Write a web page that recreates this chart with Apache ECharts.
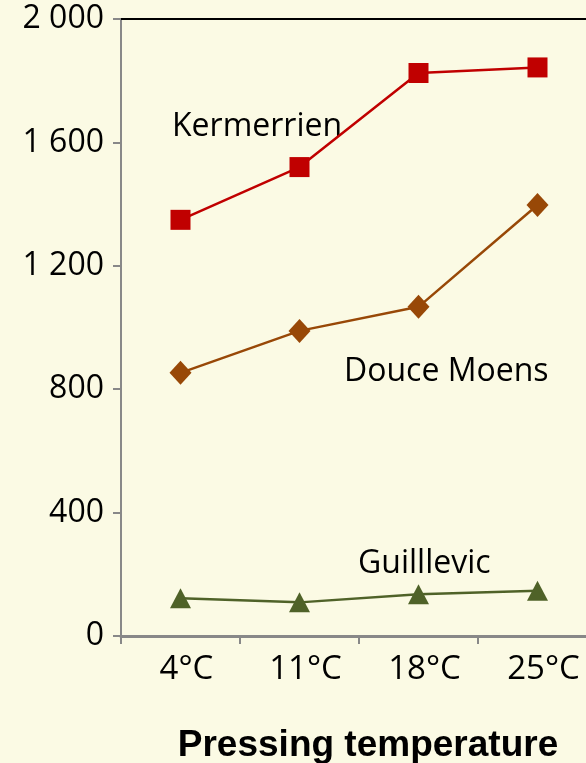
<!DOCTYPE html>
<html>
<head>
<meta charset="utf-8">
<script src="https://cdn.jsdelivr.net/npm/echarts@6/dist/echarts.min.js"></script>
<style>
html,body{margin:0;padding:0;background:#FBFAE4;}
#chart{width:586px;height:763px;}
</style>
</head>
<body>
<div id="chart"></div>
<script>
var categories = ['4°C', '11°C', '18°C', '25°C'];
var kermerrien = [1349, 1520, 1825, 1843];
var douceMoens = [853, 989, 1067, 1397];
var guillevic = [122, 109, 135, 147];
var yTicks = [0, 400, 800, 1200, 1600, 2000];
var seriesNames = ['Kermerrien', 'Douce Moens', 'Guilllevic'];
var xTitle = 'Pressing temperature';

var chart = echarts.init(document.getElementById('chart'));
function fmt(v){
  var s = String(v);
  if (s.length > 3) s = s.slice(0, s.length - 3) + ' ' + s.slice(-3);
  return s;
}
var option = {
  backgroundColor: '#FBFAE4',
  animation: false,
  grid: {left: 121, top: 19, width: 476, height: 617, containLabel: false, outerBoundsMode: 'none'},
  xAxis: [{
    type: 'category',
    data: categories,
    boundaryGap: true,
    axisLine: {lineStyle: {color: '#888888', width: 3}},
    axisTick: {show: true, length: 8, lineStyle: {color: '#888888', width: 2}},
    axisLabel: {color: '#000', fontSize: 33, fontFamily: 'Open Sans', margin: 17, padding: [0, 0, 0, 12]},
    name: xTitle,
    nameLocation: 'middle',
    nameGap: 91,
    nameTextStyle: {color: '#000', fontSize: 37, fontWeight: 'bold', fontFamily: 'Liberation Sans', padding: [0, 0, 0, 18]},
    splitLine: {show: false}
  }, {
    type: 'category',
    data: categories,
    position: 'top',
    axisLine: {lineStyle: {color: '#000', width: 2}},
    axisTick: {show: false},
    axisLabel: {show: false}
  }],
  yAxis: {
    type: 'value',
    min: yTicks[0],
    max: yTicks[yTicks.length - 1],
    interval: 400,
    axisLine: {show: true, lineStyle: {color: '#888888', width: 2}},
    axisTick: {show: true, length: 8, lineStyle: {color: '#888888', width: 2}},
    axisLabel: {color: '#000', fontSize: 32, fontFamily: 'Open Sans', margin: 17, formatter: fmt},
    splitLine: {show: false}
  },
  series: [{
    name: seriesNames[0],
    type: 'line',
    data: kermerrien,
    symbol: 'rect',
    symbolSize: 20,
    itemStyle: {color: '#C00000'},
    lineStyle: {color: '#C00000', width: 2.5}
  }, {
    name: seriesNames[1],
    type: 'line',
    data: douceMoens,
    symbol: 'diamond',
    symbolSize: [22, 24],
    itemStyle: {color: '#984807'},
    lineStyle: {color: '#984807', width: 2.5}
  }, {
    name: seriesNames[2],
    type: 'line',
    data: guillevic,
    symbol: 'triangle',
    symbolSize: [21, 20],
    itemStyle: {color: '#4F6228'},
    lineStyle: {color: '#4F6228', width: 2.5}
  }],
  graphic: [
    {type: 'text', left: 172, top: 111, style: {text: seriesNames[0], fontSize: 32, fontFamily: 'Open Sans', fill: '#000'}},
    {type: 'text', left: 344, top: 356, style: {text: seriesNames[1], fontSize: 32, fontFamily: 'Open Sans', fill: '#000'}},
    {type: 'text', left: 358, top: 548, style: {text: seriesNames[2], fontSize: 32, fontFamily: 'Open Sans', fill: '#000'}}
  ]
};
chart.setOption(option);
</script>
</body>
</html>
